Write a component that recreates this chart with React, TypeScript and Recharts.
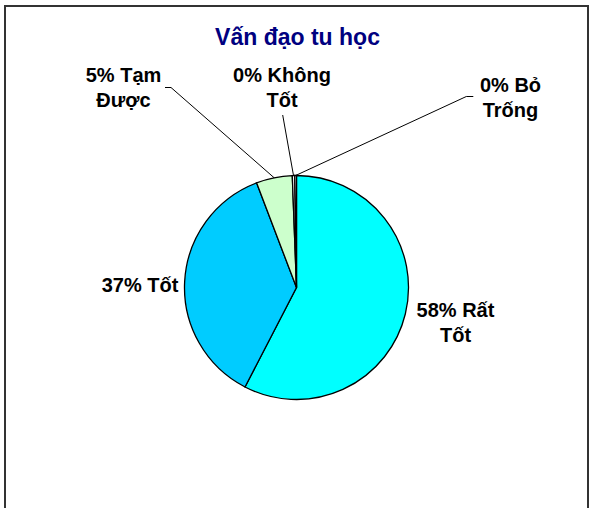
import { PieChart, Pie, Cell } from "recharts";

const title = "Vấn đạo tu học";
const categories = ["Rất Tốt", "Tốt", "Tạm Được", "Không Tốt", "Bỏ Trống"];
const shares = [57.6, 36.6, 5.2, 0.35, 0.25];
const colors = ["#00FFFF", "#00CCFF", "#CCFFCC", "#FFFFFF", "#FFFFFF"];

// label placement, relative to the pie centre (Excel put these by hand)
const labelLayout = [
  { dx: 159, dy: 29 },
  { dx: -156.5, dy: 4 },
  { dx: -173, dy: -206, lead: [-131.5, -200], elbow: 6 },
  { dx: -14.5, dy: -206, lead: [-13.8, -172.5], elbow: 0 },
  { dx: 214, dy: -196, lead: [176.8, -191], elbow: -7 },
];

const data = categories.map((name, i) => ({ name, value: shares[i] }));

const FONT = "'Liberation Sans', Arial, sans-serif";
const RAD = Math.PI / 180;

function renderLabel(props: any) {
  const { cx, cy, midAngle, outerRadius, percent, index, name } = props;
  const layout = labelLayout[index];
  const words = String(name).split(" ");
  const pct = Math.round(percent * 100) + "%";
  const lines =
    words.length > 1 ? [pct + " " + words[0], words.slice(1).join(" ")] : [pct + " " + words[0]];
  const x = cx + layout.dx;
  let leader = null;
  if (layout.lead) {
    const sx = cx + layout.lead[0];
    const sy = cy + layout.lead[1];
    const ex = cx + outerRadius * Math.cos(-midAngle * RAD);
    const ey = cy + outerRadius * Math.sin(-midAngle * RAD);
    leader = (
      <polyline
        points={`${sx},${sy} ${sx + layout.elbow},${sy} ${ex},${ey}`}
        fill="none"
        stroke="#000"
        strokeWidth={1}
      />
    );
  }
  return (
    <g key={`lbl-${index}`}>
      {leader}
      {lines.map((t, j) => (
        <text
          key={j}
          x={x}
          y={cy + layout.dy + j * 25}
          textAnchor="middle"
          fontFamily={FONT}
          fontWeight="bold"
          fontSize={20}
          fill="#000"
        >
          {t}
        </text>
      ))}
    </g>
  );
}

export default function App() {
  return (
    <div
      style={{
        position: "absolute",
        left: 0,
        top: 0,
        width: 590,
        height: 508,
        background: "#fff",
        overflow: "hidden",
      }}
    >
      <PieChart width={590} height={508} margin={{ top: 0, right: 0, bottom: 0, left: 0 }}>
        <Pie
          data={data}
          dataKey="value"
          nameKey="name"
          cx={296.5}
          cy={287.5}
          outerRadius={112}
          startAngle={90}
          endAngle={-270}
          stroke="#000"
          strokeWidth={1.3}
          labelLine={false}
          label={renderLabel}
          isAnimationActive={false}
        >
          {data.map((d, i) => (
            <Cell key={d.name} fill={colors[i]} />
          ))}
        </Pie>
      </PieChart>
      <svg
        width={590}
        height={508}
        style={{ position: "absolute", left: 0, top: 0, pointerEvents: "none" }}
      >
        <path d="M5,508 L5,6 L588,6 L588,508" fill="none" stroke="#333" strokeWidth={2} />
        <text
          x={297.5}
          y={45}
          textAnchor="middle"
          fontFamily={FONT}
          fontWeight="bold"
          fontSize={23}
          fill="#000080"
        >
          {title}
        </text>
      </svg>
    </div>
  );
}
